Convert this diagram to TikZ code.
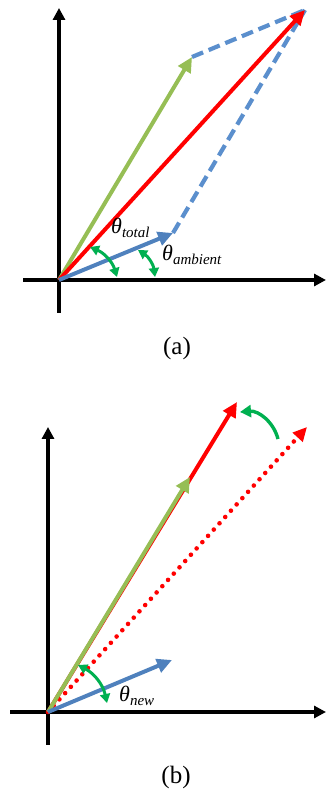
\documentclass[tikz,border=0pt]{standalone}
\usepackage{fontspec}
\setmainfont{Liberation Serif}
\usetikzlibrary{arrows.meta}
\definecolor{vred}{RGB}{255,0,0}
\definecolor{vgreen}{RGB}{150,190,85}
\definecolor{vblue}{RGB}{79,129,189}
\definecolor{vdash}{RGB}{91,143,205}
\definecolor{agreen}{RGB}{0,176,80}
\newcommand{\thsub}[1]{θ\raisebox{-4pt}{\fontsize{15}{17}\selectfont #1}}
\begin{document}
\begin{tikzpicture}[x=1pt,y=1pt,line join=round,
		axis/.style={line width=3.4pt,-{Triangle[length=12pt,width=12pt]}},
		vec/.style={line width=4pt,-{Triangle[length=15pt,width=14pt]}},
		dashvec/.style={vdash,line width=4.2pt,dash pattern=on 12pt off 6pt},
		dotvec/.style={vred,line width=4.6pt,line cap=round,dash pattern=on 0pt off 8.5pt,-{Triangle[length=14pt,width=13pt]}},
		angarc/.style={agreen,line width=3pt,{Triangle[length=9pt,width=10pt]}-{Triangle[length=9pt,width=10pt]}},
		lab/.style={anchor=west,inner sep=0pt,font=\fontsize{22}{25}\selectfont\itshape},
		capt/.style={font=\fontsize{25}{28}\selectfont}]
	\useasboundingbox (0,0) rectangle (326,790);
	% (a)
	\coordinate (Oa) at (59,510);
	\coordinate (Ga) at (192,733);
	\coordinate (Ra) at (305,780);
	\coordinate (Ba) at (173,557);
	\draw [axis] (59,477) -- (59,782);
	\draw [axis] (23,510) -- (326,510);
	\draw [dashvec] (Ga) -- (Ra) (Ba) -- (Ra);
	\draw [vec,vgreen] (Oa) -- (Ga);
	\draw [vec,vred] (Oa) -- (Ra);
	\draw [vec,vblue] (Oa) -- (Ba);
	\draw [angarc] (90,543) to [bend left=25] (117,513);
	\draw [angarc] (138,540) to [bend left=25] (155,513);
	\node [lab] (ttot) at (111,562) {\thsub{total}};
	\node [lab] (tamb) at (162,535) {\thsub{ambient}};
	\node [capt] (capa) at (177,442) {(a)};
	% (b)
	\coordinate (Ob) at (48,78);
	\coordinate (Gb) at (190,313);
	\coordinate (Rb) at (237,388);
	\coordinate (Db) at (307,363);
	\coordinate (Bb) at (172,130);
	\draw [axis] (48,45) -- (48,363);
	\draw [axis] (10,78) -- (326,78);
	\draw [dotvec] (Ob) -- (Db);
	\draw [vec,vred] (Ob) -- (Rb);
	\draw [vec,vgreen] (Ob) -- (Gb);
	\draw [vec,vblue] (Ob) -- (Bb);
	\draw [agreen,line width=3.4pt,-{Triangle[length=11pt,width=12pt]}] (278,351) to [bend right=40] (240,378);
	\draw [angarc] (78,125) to [bend left=25] (107,87);
	\node [lab] (tnew) at (119,94) {\thsub{new}};
	\node [capt] (capb) at (176,13) {(b)};
\end{tikzpicture}
\end{document}
